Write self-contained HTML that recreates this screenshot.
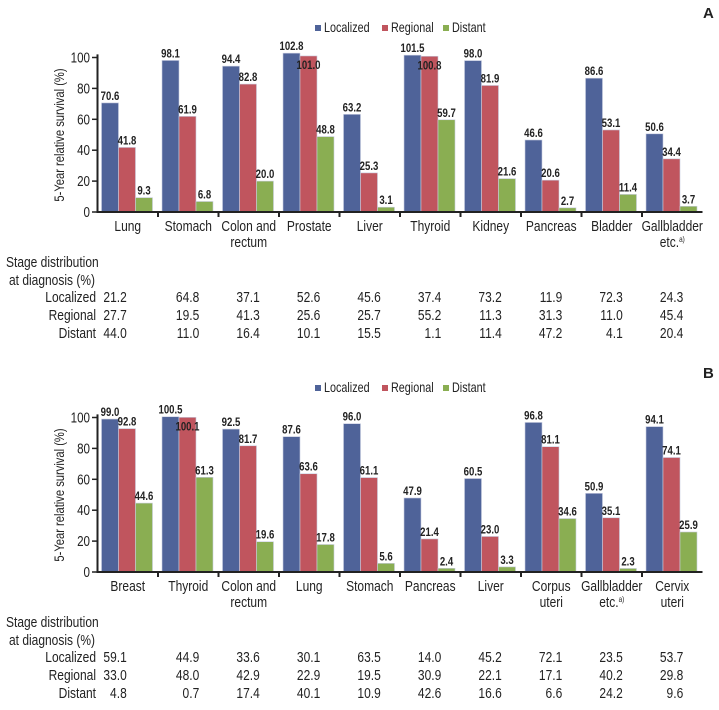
<!DOCTYPE html>
<html><head><meta charset="utf-8">
<style>
body{margin:0;background:#fff;width:719px;height:705px;overflow:hidden;}
svg text{font-family:"Liberation Sans",sans-serif;fill:#222;}
</style></head>
<body>
<svg id="chart" width="719" height="705" viewBox="0 0 719 705" xmlns="http://www.w3.org/2000/svg"></svg>
<script>
const catsA = [["Lung"],["Stomach"],["Colon and","rectum"],["Prostate"],["Liver"],["Thyroid"],["Kidney"],["Pancreas"],["Bladder"],["Gallbladder","etc.a)"]];
const locA = [70.6,98.1,94.4,102.8,63.2,101.5,98.0,46.6,86.6,50.6];
const regA = [41.8,61.9,82.8,101.0,25.3,100.8,81.9,20.6,53.1,34.4];
const disA = [9.3,6.8,20.0,48.8,3.1,59.7,21.6,2.7,11.4,3.7];
const stLocA = ["21.2","64.8","37.1","52.6","45.6","37.4","73.2","11.9","72.3","24.3"];
const stRegA = ["27.7","19.5","41.3","25.6","25.7","55.2","11.3","31.3","11.0","45.4"];
const stDisA = ["44.0","11.0","16.4","10.1","15.5","1.1","11.4","47.2","4.1","20.4"];

const catsB = [["Breast"],["Thyroid"],["Colon and","rectum"],["Lung"],["Stomach"],["Pancreas"],["Liver"],["Corpus","uteri"],["Gallbladder","etc.a)"],["Cervix","uteri"]];
const locB = [99.0,100.5,92.5,87.6,96.0,47.9,60.5,96.8,50.9,94.1];
const regB = [92.8,100.1,81.7,63.6,61.1,21.4,23.0,81.1,35.1,74.1];
const disB = [44.6,61.3,19.6,17.8,5.6,2.4,3.3,34.6,2.3,25.9];
const stLocB = ["59.1","44.9","33.6","30.1","63.5","14.0","45.2","72.1","23.5","53.7"];
const stRegB = ["33.0","48.0","42.9","22.9","19.5","30.9","22.1","17.1","40.2","29.8"];
const stDisB = ["4.8","0.7","17.4","40.1","10.9","42.6","16.6","6.6","24.2","9.6"];

const yTicks = [0,20,40,60,80,100];
const colors = ["#4f6399","#c0555e","#8aae52"];
const seriesNames = ["Localized","Regional","Distant"];
const NS = "http://www.w3.org/2000/svg";
const SX = 0.8;
const svg = document.getElementById('chart');
function mk(tag, attrs, parent, txt){
  const e=document.createElementNS(NS,tag);
  for(const k in attrs) e.setAttribute(k,attrs[k]);
  if(txt!==undefined) e.textContent=txt;
  (parent||svg).appendChild(e); return e;
}
function tx(x,y,str,attrs,parent){
  const a=Object.assign({x:0,y:0,transform:`translate(${x},${y}) scale(${SX},1)`},attrs||{});
  return mk('text',a,parent,str);
}
const X0=97.5, GW=60.5, BW=17;
function xGroup(i){return X0+i*GW;}
function drawPanel(off, letter, cats, series, stage, tag){
  const g=mk('g',{});
  
  
  const yS=v=>off+212-v*1.545;
  const L=mk('text',{x:703,y:off+18,'font-size':15,'font-weight':'bold'},g,letter);
  
  
  const lx=[315,382,443];
  seriesNames.forEach((n,k)=>{
    const le=mk('g',{},g);
    
    
    mk('rect',{x:lx[k],y:off+25,width:6,height:6,fill:colors[k]},le);
    tx(lx[k]+9,off+32,n,{'font-size':13.5},le);
  });
  const yt=mk('text',{transform:`translate(64,${off+135}) rotate(-90) scale(${SX},1)`,'text-anchor':'middle','font-size':14},g,'5-Year relative survival (%)');
  
  
  yTicks.forEach(t=>{
    const y=yS(t);
    mk('line',{x1:92,x2:97.5,y1:y,y2:y,stroke:'#222','stroke-width':1.5},g);
    const tl=tx(90,y+5,t,{'text-anchor':'end','font-size':14.5,fill:'#555'},g);
    
    
  });
  cats.forEach((c,i)=>{
    series.forEach((s,k)=>{
      const v=s[i];
      const x=xGroup(i)+4+k*BW;
      const r=mk('rect',{x:x,y:yS(v),width:BW,height:yS(0)-yS(v),fill:colors[k],stroke:'#c8cde0','stroke-width':0.6},g);
      
      
      const inside=(k===1 && v>100);
      const vl=tx(x+BW/2,inside?yS(v)+13:yS(v)-3,v.toFixed(1),{'text-anchor':'middle','font-size':12,'font-weight':'bold',fill:'#222'},g);
      
      
    });
  });
  mk('line',{x1:97.5,x2:97.5,y1:yS(102),y2:yS(0)+1,stroke:'#222','stroke-width':2},g);
  mk('line',{x1:96.5,x2:X0+10*GW,y1:yS(0),y2:yS(0),stroke:'#222','stroke-width':2},g);
  for(let i=1;i<10;i++) mk('line',{x1:xGroup(i),x2:xGroup(i),y1:yS(0),y2:yS(0)+5,stroke:'#222','stroke-width':2},g);
  cats.forEach((c,i)=>{
    const cx=xGroup(i)+GW/2;
    const t=mk('text',{x:0,y:0,transform:`translate(${cx},${off+231}) scale(${SX},1)`,'text-anchor':'middle','font-size':15,fill:'#333'},g);
    
    
    c.forEach((line,j)=>{
      const ts=mk('tspan',{x:0,dy:j?16:0},t);
      if(line.endsWith('a)')){ts.textContent=line.slice(0,-2);mk('tspan',{'font-size':8,dy:-5},ts,'a)');}
      else ts.textContent=line;
    });
  });
  tx(6,off+267,'Stage distribution',{'font-size':15},g);
  tx(95,off+285,'at diagnosis (%)',{'font-size':15,'text-anchor':'end'},g);
  const rowY=[302,320,338];
  stage.forEach((row,r)=>{
    const rl=tx(96,off+rowY[r],seriesNames[r],{'text-anchor':'end','font-size':15},g);
    
    
    row.forEach((v,i)=>{
      const cx=xGroup(i)+GW/2;
      const xr=i===0?cx-1:cx+11;
      const t=tx(xr,off+rowY[r],v,{'text-anchor':'end','font-size':15,fill:'#444'},g);
      
      
    });
  });
}
drawPanel(0,'A',catsA,[locA,regA,disA],[stLocA,stRegA,stDisA],'a');
drawPanel(360,'B',catsB,[locB,regB,disB],[stLocB,stRegB,stDisB],'b');
</script>
</body></html>
